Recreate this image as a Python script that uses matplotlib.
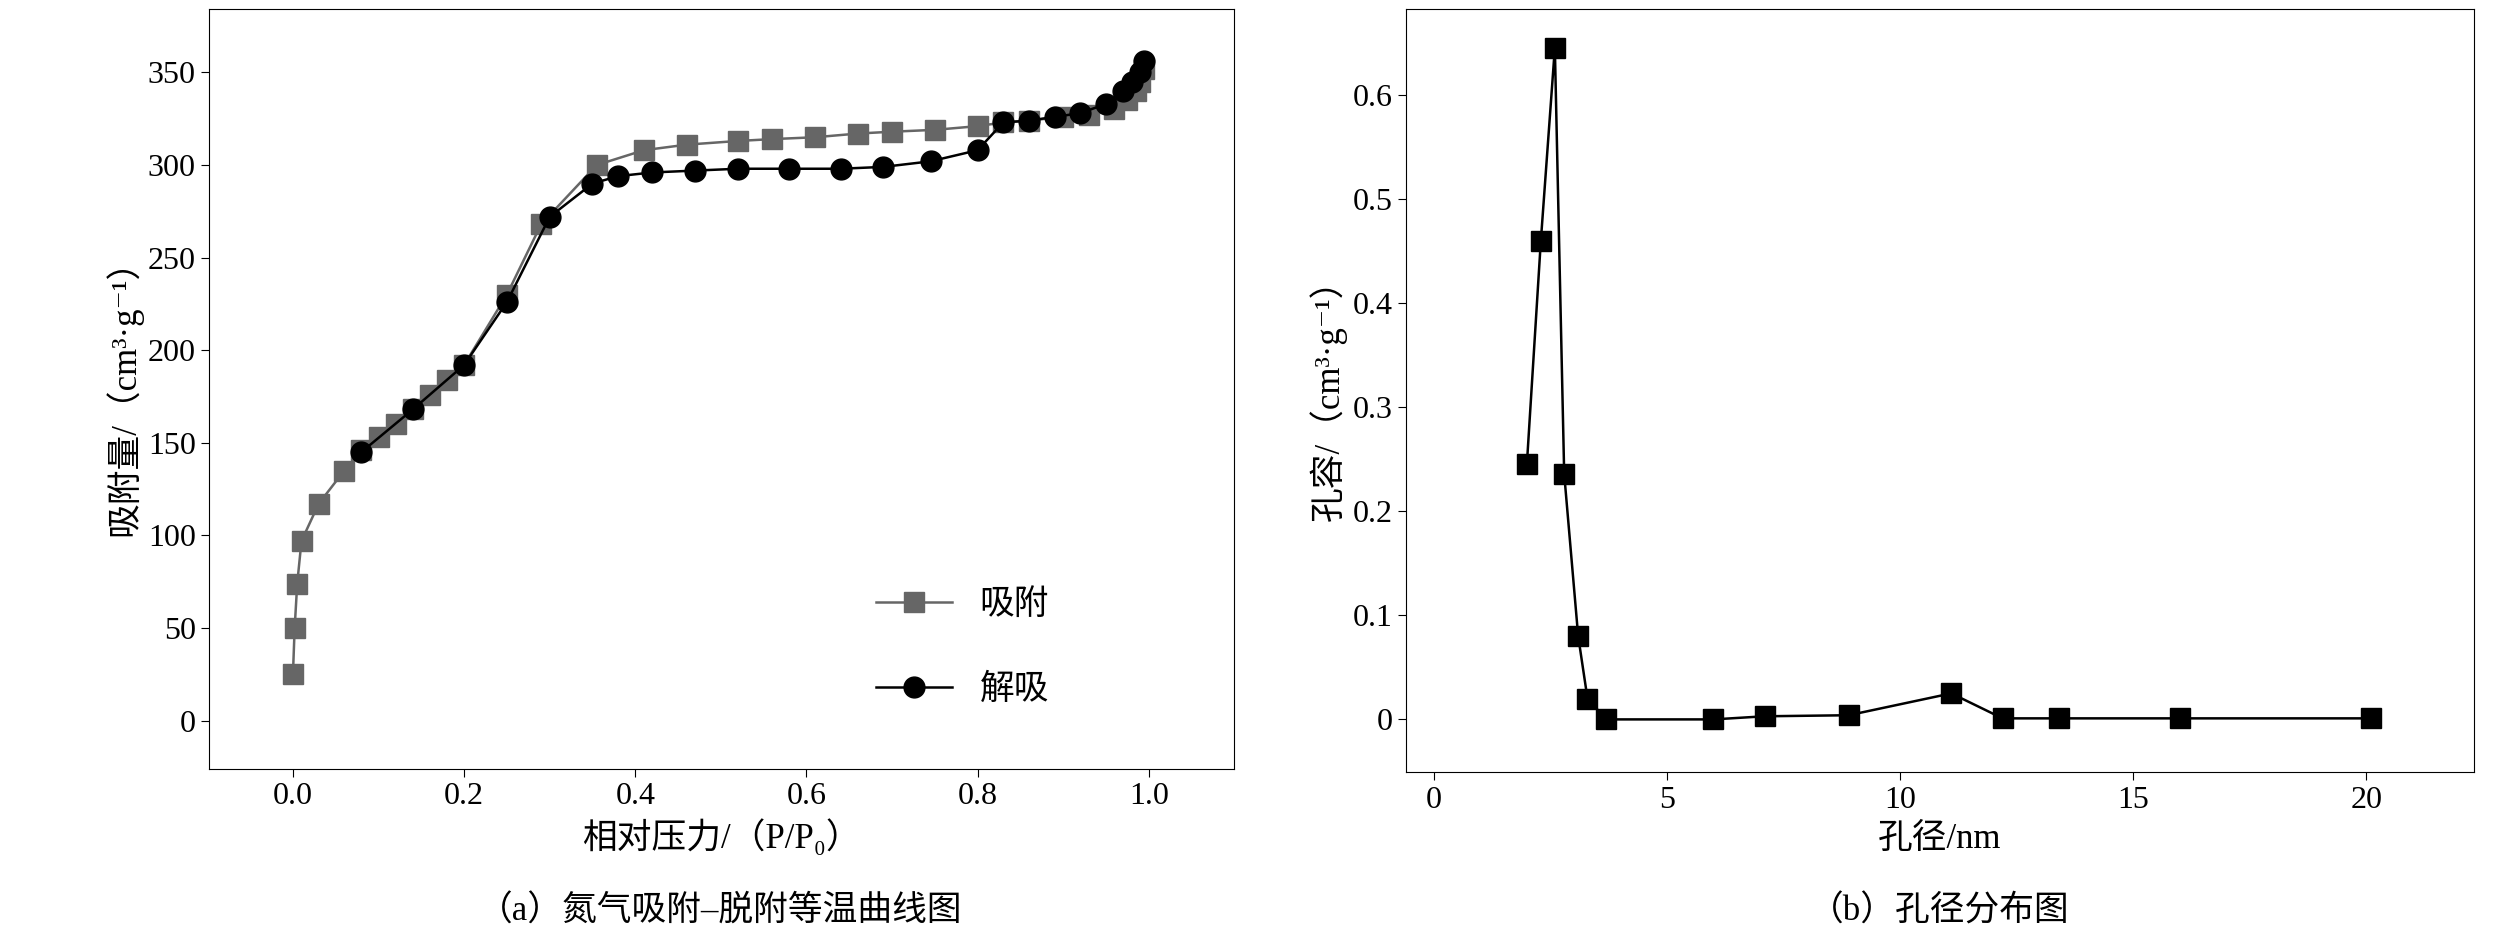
import matplotlib.pyplot as plt

plt.rcParams['font.family'] = ['Liberation Serif', 'Noto Sans CJK SC', 'DejaVu Serif']
plt.rcParams['font.size'] = 23

ads_x = [0, 0.002, 0.005, 0.01, 0.03, 0.06, 0.08, 0.1, 0.12, 0.14, 0.16, 0.18, 0.2, 0.25, 0.29, 0.355,
         0.41, 0.46, 0.52, 0.56, 0.61, 0.66, 0.7, 0.75, 0.8, 0.83, 0.86, 0.9, 0.93, 0.96, 0.975, 0.985, 0.99, 0.995]
ads_y = [25, 50, 74, 97, 117, 135, 146, 153, 160, 168, 176, 184, 192, 230, 268, 300,
         308, 311, 313, 314, 315, 317, 318, 319, 321, 323, 324, 326, 327, 330, 335, 340, 345, 352]
des_x = [0.995, 0.99, 0.98, 0.97, 0.95, 0.92, 0.89, 0.86, 0.83, 0.8, 0.745, 0.69, 0.64, 0.58, 0.52,
         0.47, 0.42, 0.38, 0.35, 0.3, 0.25, 0.2, 0.14, 0.08]
des_y = [356, 350, 345, 340, 333, 328, 326, 324, 323, 308, 302, 299, 298, 298, 298,
         297, 296, 294, 290, 272, 226, 192, 168, 145]

pore_d = [2.0, 2.3, 2.6, 2.8, 3.1, 3.3, 3.7, 6.0, 7.1, 8.9, 11.1, 12.2, 13.4, 16.0, 20.1]
pore_v = [0.245, 0.46, 0.645, 0.236, 0.08, 0.02, 0.0, 0.0, 0.003, 0.004, 0.025, 0.001, 0.001, 0.001, 0.001]

fig = plt.figure(figsize=(25.19, 9.49), dpi=100)
ax1 = fig.add_axes([0.083, 0.19, 0.407, 0.80])
ax2 = fig.add_axes([0.558, 0.186, 0.424, 0.804])

ax1.plot(ads_x, ads_y, color='#666666', marker='s', markersize=14, lw=1.8, label='吸附')
ax1.plot(des_x, des_y, color='black', marker='o', markersize=15, lw=1.8, label='解吸')
ax1.set_xlim(-0.098, 1.10)
ax1.set_ylim(-26, 384)
ax1.set_xticks([0, 0.2, 0.4, 0.6, 0.8, 1.0])
ax1.set_yticks(range(0, 351, 50))
ax1.set_xlabel('相对压力/（P/P₀）', labelpad=6, fontsize=25)
ax1.set_ylabel('吸附量/（cm³·g⁻¹）', fontsize=25)
ax1.legend(loc='lower right', bbox_to_anchor=(0.85, 0.04), frameon=False, labelspacing=1.5,
           handlelength=2.2, fontsize=25)

ax2.plot(pore_d, pore_v, color='black', marker='s', markersize=14, lw=1.8)
ax2.set_xlim(-0.6, 22.3)
ax2.set_ylim(-0.051, 0.682)
ax2.set_xticks([0, 5, 10, 15, 20])
ax2.set_yticks([0, 0.1, 0.2, 0.3, 0.4, 0.5, 0.6])
ax2.set_yticklabels(['0', '0.1', '0.2', '0.3', '0.4', '0.5', '0.6'])
ax2.set_xlabel('孔径/nm', labelpad=6, fontsize=25)
ax2.set_ylabel('孔容/（cm³·g⁻¹）', fontsize=25)

for ax in (ax1, ax2):
    ax.tick_params(direction='out', length=6)

fig.text(0.286, 0.03, '（a）氮气吸附–脱附等温曲线图', ha='center', fontsize=25)
fig.text(0.77, 0.03, '（b）孔径分布图', ha='center', fontsize=25)

plt.savefig('out.png')
